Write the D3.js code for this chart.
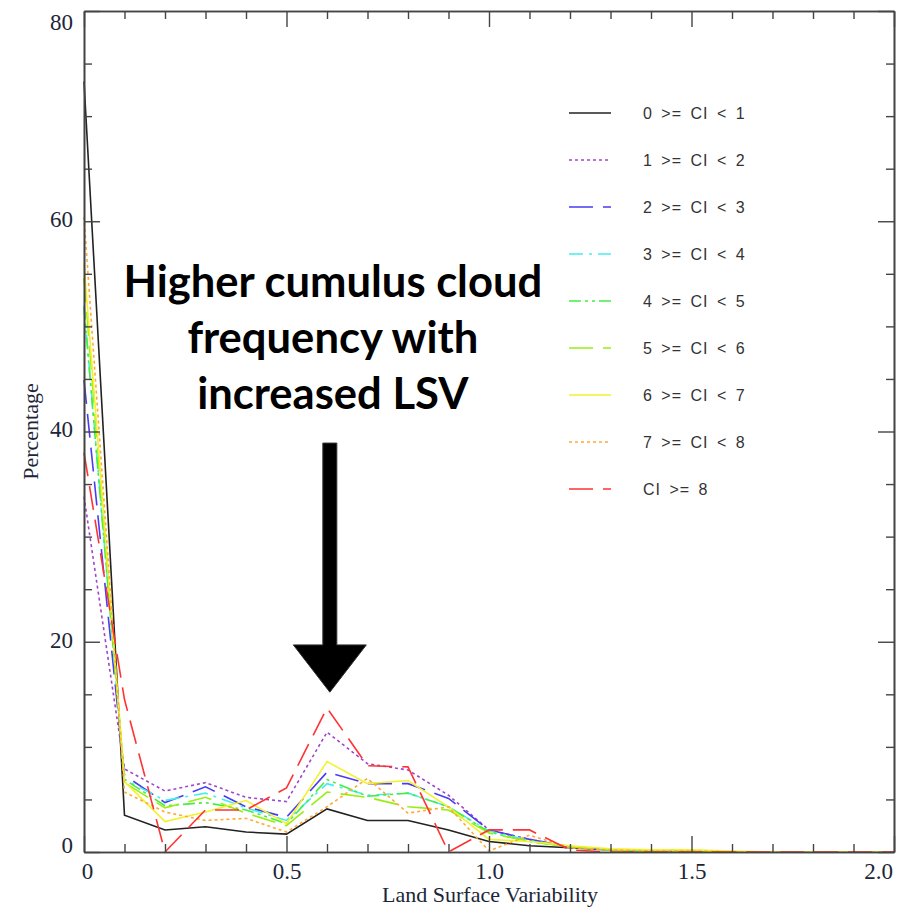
<!DOCTYPE html>
<html>
<head>
<meta charset="utf-8">
<script src="https://cdn.jsdelivr.net/npm/d3@7"></script>
<style>
   html, body { margin: 0; padding: 0; background: #fff; }
   svg { display: block; }
</style>
</head>
<body>
<div id="chart"></div>
<script>

// LAND SURFACE VARIABILITY BINS (X VALUES)
var lsv = [0, 0.1, 0.2, 0.3, 0.4, 0.5, 0.6, 0.7, 0.8, 0.9, 1.0, 1.1, 1.2, 1.3, 1.4, 1.5, 1.6, 1.7, 1.8, 1.9, 2.0];

// PERCENTAGE PER CLOUD INDEX CLASS
var ci0 = [73.3, 3.5, 2.1, 2.4, 1.9, 1.7, 4.1, 3.0, 3.0, 2.1, 1.0, 0.6, 0.4, 0.2, 0.1, 0.05, 0, 0, 0, 0, 0];
var ci1 = [33.8, 7.9, 5.8, 6.6, 5.2, 4.8, 11.4, 8.4, 7.8, 5.4, 2.1, 1.2, 0.5, 0.2, 0.1, 0.1, 0, 0, 0, 0, 0];
var ci2 = [44.9, 7.3, 4.7, 6.2, 4.3, 3.3, 7.6, 6.5, 6.5, 5.1, 2.1, 1.2, 0.5, 0.2, 0.1, 0.1, 0, 0, 0, 0, 0];
var ci3 = [52.0, 6.9, 4.9, 5.6, 4.2, 3.0, 6.5, 5.4, 5.6, 4.3, 2.0, 1.1, 0.5, 0.2, 0.1, 0.1, 0, 0, 0, 0, 0];
var ci4 = [51.8, 6.9, 4.4, 4.7, 4.0, 2.7, 6.9, 5.3, 5.6, 4.3, 1.9, 1.0, 0.5, 0.2, 0.1, 0.1, 0, 0, 0, 0, 0];
var ci5 = [54.6, 6.6, 4.2, 5.2, 3.7, 2.5, 5.7, 5.2, 4.3, 4.0, 1.8, 1.0, 0.5, 0.2, 0.1, 0.1, 0, 0, 0, 0, 0];
var ci6 = [56.0, 6.7, 2.9, 3.8, 4.9, 2.7, 8.6, 6.5, 6.8, 4.3, 1.2, 1.0, 0.6, 0.3, 0.2, 0.2, 0.1, 0, 0, 0, 0];
var ci7 = [60.4, 5.7, 3.8, 3.0, 3.2, 1.9, 4.3, 7.0, 3.7, 4.3, 0.1, 1.6, 0.4, 0.2, 0.1, 0.1, 0, 0, 0, 0, 0];
var ci8 = [38.0, 14.5, 0, 4.0, 4.0, 6.1, 13.7, 8.2, 8.1, 0, 2.1, 2.1, 0.2, 0, 0, 0, 0, 0, 0, 0, 0];

// LEGEND LABELS
var labels = ['0 >= CI < 1', '1 >= CI < 2', '2 >= CI < 3', '3 >= CI < 4', '4 >= CI < 5',
   '5 >= CI < 6', '6 >= CI < 7', '7 >= CI < 8', 'CI >= 8'];

// TICK VALUES
var xMajor = [0, 0.5, 1.0, 1.5, 2.0];
var xMinor = [0.1, 0.2, 0.3, 0.4, 0.6, 0.7, 0.8, 0.9, 1.1, 1.2, 1.3, 1.4, 1.6, 1.7, 1.8, 1.9];
var yMajor = [0, 20, 40, 60, 80];
var yMinor = [5, 10, 15, 25, 30, 35, 45, 50, 55, 65, 70, 75];

// ANNOTATION TEXT AND ARROW (DATA UNITS)
var note = ['Higher cumulus cloud', 'frequency with', 'increased LSV'];
var arrow = { x: 0.607, top: 38.9, neck: 19.7, tip: 15.2 };

// SETTINGS
var settings = {
   width: 909,
   height: 914,
   margin: { left: 84, right: 15, top: 11, bottom: 62 },
   axis: '#444',
   label: '#1b2638',
   colors: ['#222222', '#a244cc', '#4a3cf0', '#44eeee', '#44ee44', '#99ee11', '#f2f22e', '#ffaa33', '#ff3333'],
   dashes: ['none', '3,3', '24,10', '14,6,3,6', '12,4,3,4,3,4', '24,10', 'none', '3,3', '24,10']
};

var series = [ci0, ci1, ci2, ci3, ci4, ci5, ci6, ci7, ci8];

// GENERATE CANVAS
var canvas = d3.select('#chart').append('svg')
   .attr('width', settings.width)
   .attr('height', settings.height)

var m = settings.margin;

// X-SCALING
var xScale = d3.scaleLinear()
   .domain([0, 2])
   .range([m.left, settings.width - m.right])

// Y-SCALING
var yScale = d3.scaleLinear()
   .domain([0, 80])
   .range([settings.height - m.bottom, m.top])

var x0 = xScale(0), x1 = xScale(2), y0 = yScale(0), y1 = yScale(80);

// GENERATE LINES
var pathify = d3.line()
   .x((d, i) => { return xScale(lsv[i]) })
   .y((d) => { return yScale(d) })

series.forEach((s, k) => {
   canvas.append('path')
      .attr('fill', 'none')
      .attr('stroke', settings.colors[k])
      .attr('stroke-width', 1.6)
      .attr('stroke-dasharray', settings.dashes[k])
      .attr('d', pathify(s))
});

// AXES WITH INWARD TICKS (MAJOR LONG, MINOR SHORT)
function axisgroup(axis, tx, ty) {
   var g = canvas.append('g')
      .attr('transform', 'translate(' + tx + ',' + ty + ')')
      .call(axis)
   g.select('.domain').attr('stroke', settings.axis).attr('stroke-width', 1.6)
   g.selectAll('line').attr('stroke', settings.axis).attr('stroke-width', 1.4)
   g.selectAll('text')
      .attr('fill', settings.label)
      .style('font-family', '"Liberation Serif", "Times New Roman", serif')
      .style('font-size', '23px')
   return g;
}

// BOTTOM
var bx = axisgroup(d3.axisBottom(xScale).tickValues(xMajor).tickSize(-16).tickSizeOuter(0).tickPadding(11)
   .tickFormat((d) => { return d === 0 ? '0' : d3.format('.1f')(d) }), 0, y0)
axisgroup(d3.axisBottom(xScale).tickValues(xMinor).tickSize(-8).tickSizeOuter(0).tickFormat(''), 0, y0)
bx.selectAll('text').attr('dx', (d) => { return d === 0 ? 3 : d === 2 ? -16 : 0 })

// TOP
axisgroup(d3.axisTop(xScale).tickValues(xMajor).tickSize(-16).tickSizeOuter(0).tickFormat(''), 0, y1)
axisgroup(d3.axisTop(xScale).tickValues(xMinor).tickSize(-8).tickSizeOuter(0).tickFormat(''), 0, y1)

// LEFT
var ly = axisgroup(d3.axisLeft(yScale).tickValues(yMajor).tickSize(-16).tickSizeOuter(0).tickPadding(11), x0, 0)
axisgroup(d3.axisLeft(yScale).tickValues(yMinor).tickSize(-8).tickSizeOuter(0).tickFormat(''), x0, 0)
ly.selectAll('text').attr('y', (d) => { return d === 0 ? -7 : d === 80 ? 11 : -2 })

// RIGHT
axisgroup(d3.axisRight(yScale).tickValues(yMajor).tickSize(-16).tickSizeOuter(0).tickFormat(''), x1, 0)
axisgroup(d3.axisRight(yScale).tickValues(yMinor).tickSize(-8).tickSizeOuter(0).tickFormat(''), x1, 0)

// AXIS TITLES
canvas.append('text')
   .attr('x', (x0 + x1) / 2 + 1)
   .attr('y', 902)
   .attr('text-anchor', 'middle')
   .attr('fill', settings.label)
   .style('font-family', '"Liberation Serif", "Times New Roman", serif')
   .style('font-size', '22px')
   .text('Land Surface Variability')

canvas.append('text')
   .attr('transform', 'translate(38,' + ((y0 + y1) / 2) + ') rotate(-90)')
   .attr('text-anchor', 'middle')
   .attr('fill', settings.label)
   .style('font-family', '"Liberation Serif", "Times New Roman", serif')
   .style('font-size', '22px')
   .text('Percentage')

// LEGEND
var legend = canvas.append('g')

labels.forEach((lab, k) => {
   var ly = 113 + k * 47;
   legend.append('line')
      .attr('x1', 569).attr('x2', 611)
      .attr('y1', ly).attr('y2', ly)
      .attr('stroke', settings.colors[k])
      .attr('stroke-width', 1.6)
      .attr('stroke-dasharray', settings.dashes[k])
   legend.append('text')
      .attr('x', 643)
      .attr('y', ly)
      .attr('dy', '0.36em')
      .attr('fill', '#333')
      .style('font-family', '"Liberation Sans", Arial, sans-serif')
      .style('font-size', '16px')
      .style('letter-spacing', '1px')
      .style('word-spacing', '3px')
      .text(lab)
});

// ANNOTATION TEXT, FITTED TO WIDTH
var ax = xScale(arrow.x);
var notes = canvas.append('g')
note.forEach((t, k) => {
   notes.append('text')
      .attr('x', ax + 3)
      .attr('y', 297 + k * 56)
      .attr('text-anchor', 'middle')
      .attr('fill', '#000')
      .style('font-family', 'Lato, "Open Sans", sans-serif')
      .style('font-weight', 'bold')
      .style('font-size', '40px')
      .text(t)
});
var w = notes.select('text').node().getComputedTextLength();
notes.selectAll('text').style('font-size', (40 * 419 / w) + 'px')

// ARROW
var shaft = 7, head = 36.5;
canvas.append('path')
   .attr('fill', '#000')
   .attr('stroke', '#333')
   .attr('stroke-width', 1)
   .attr('d', d3.line()([
      [ax - shaft, yScale(arrow.top)],
      [ax + shaft, yScale(arrow.top)],
      [ax + shaft, yScale(arrow.neck)],
      [ax + head, yScale(arrow.neck)],
      [ax, yScale(arrow.tip)],
      [ax - head, yScale(arrow.neck)],
      [ax - shaft, yScale(arrow.neck)]
   ]) + 'Z')

</script>
</body>
</html>
